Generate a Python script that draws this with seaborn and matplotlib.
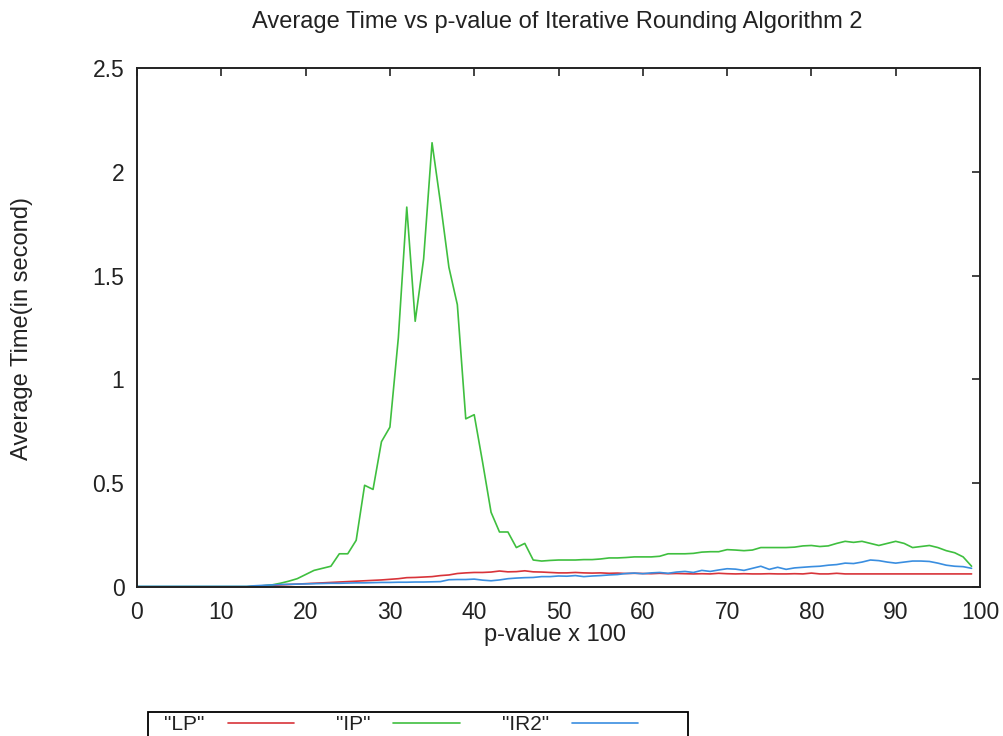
import numpy as np
import pandas as pd
import matplotlib
matplotlib.use("Agg")
import matplotlib.pyplot as plt
from matplotlib.patches import Rectangle
import seaborn as sns

# p-value x 100 (0..99)
p_values = list(range(100))

# Average time of "LP"
lp_time = [0.0] * 14 + [
    0.004, 0.006, 0.008, 0.010, 0.012, 0.014, 0.016, 0.018, 0.020, 0.022,
    0.024, 0.026, 0.028, 0.030, 0.032, 0.034, 0.037, 0.040, 0.045, 0.046,
    0.048, 0.050, 0.055, 0.058, 0.065, 0.068, 0.070, 0.070, 0.072, 0.077,
    0.073, 0.074, 0.078, 0.073, 0.072, 0.070, 0.068, 0.068, 0.070, 0.068,
    0.067, 0.068, 0.066, 0.067, 0.065, 0.066, 0.065, 0.064, 0.066, 0.064,
    0.065, 0.064, 0.063, 0.064, 0.063, 0.066, 0.064, 0.063, 0.064, 0.063,
    0.063, 0.064, 0.063, 0.063, 0.064, 0.063, 0.067, 0.063, 0.063, 0.066,
    0.063, 0.063, 0.063, 0.063, 0.063, 0.063, 0.063, 0.063, 0.063, 0.063,
    0.063, 0.063, 0.063, 0.063, 0.063, 0.063,
]

# Average time of "IP"
ip_time = [0.002] * 14 + [
    0.004, 0.006, 0.010, 0.018, 0.028, 0.040, 0.060, 0.080, 0.090, 0.100,
    0.160, 0.160, 0.225, 0.490, 0.470, 0.700, 0.770, 1.200, 1.830, 1.280,
    1.580, 2.140, 1.850, 1.540, 1.360, 0.810, 0.830, 0.600, 0.360, 0.265,
    0.265, 0.190, 0.210, 0.130, 0.125, 0.128, 0.130, 0.130, 0.130, 0.132,
    0.132, 0.135, 0.140, 0.140, 0.142, 0.145, 0.145, 0.145, 0.148, 0.160,
    0.160, 0.160, 0.162, 0.168, 0.170, 0.170, 0.180, 0.178, 0.175, 0.178,
    0.190, 0.190, 0.190, 0.190, 0.192, 0.198, 0.200, 0.195, 0.198, 0.210,
    0.220, 0.215, 0.220, 0.210, 0.200, 0.210, 0.220, 0.210, 0.190, 0.195,
    0.200, 0.190, 0.175, 0.165, 0.145, 0.100,
]

# Average time of "IR2"
ir2_time = [0.003] * 14 + [
    0.006, 0.008, 0.010, 0.012, 0.013, 0.014, 0.015, 0.016, 0.017, 0.018,
    0.018, 0.019, 0.020, 0.020, 0.021, 0.022, 0.022, 0.023, 0.023, 0.024,
    0.024, 0.025, 0.026, 0.035, 0.036, 0.036, 0.038, 0.033, 0.030, 0.034,
    0.040, 0.043, 0.045, 0.046, 0.050, 0.050, 0.053, 0.052, 0.055, 0.050,
    0.053, 0.055, 0.058, 0.060, 0.065, 0.067, 0.064, 0.068, 0.070, 0.066,
    0.072, 0.075, 0.070, 0.080, 0.075, 0.082, 0.088, 0.086, 0.080, 0.090,
    0.100, 0.085, 0.095, 0.085, 0.092, 0.095, 0.098, 0.100, 0.105, 0.108,
    0.115, 0.113, 0.120, 0.130, 0.127, 0.120, 0.115, 0.120, 0.125, 0.125,
    0.123, 0.115, 0.105, 0.100, 0.098, 0.090,
]

series_names = ['"LP"', '"IP"', '"IR2"']
colors = ["#d8343a", "#3fbf3f", "#3a8ee0"]

df = pd.concat([
    pd.DataFrame({"p": p_values, "time": vals, "series": name})
    for name, vals in zip(series_names, [lp_time, ip_time, ir2_time])
], ignore_index=True)

sns.set_style("white")
plt.rcParams["font.family"] = ["Liberation Sans", "DejaVu Sans"]

W, H = 1004, 736
fig = plt.figure(figsize=(W / 100, H / 100), dpi=100)
ax = fig.add_axes([137 / W, 1 - 587 / H, (980 - 137) / W, (587 - 68) / H])

sns.lineplot(data=df, x="p", y="time", hue="series", palette=colors,
             linewidth=1.2, ax=ax, legend=False)

ax.set_xlim(0, 100)
ax.set_ylim(0, 2.5)
ax.set_xticks(range(0, 101, 10))
ax.set_yticks([0, 0.5, 1, 1.5, 2, 2.5])
ax.set_yticklabels(["0", "0.5", "1", "1.5", "2", "2.5"])
ax.tick_params(direction="in", length=6, width=1.2, colors="#222222",
               labelsize=16.5, top=True, right=True, labeltop=False, labelright=False)
ax.tick_params(axis="y", pad=9)
ax.tick_params(axis="x", pad=10)
for s in ax.spines.values():
    s.set_color("#222222")
    s.set_linewidth(1.4)

ax.set_xlabel("")
ax.set_ylabel("")
txt_color = "#222222"
fig.text(555 / W, 1 - 635 / H, "p-value x 100", ha="center", va="center",
         fontsize=17, color=txt_color)
fig.text(22 / W, 1 - 328 / H, "Average Time(in second)", ha="center", va="center",
         rotation=90, fontsize=17, color=txt_color)
fig.text(557 / W, 1 - 22 / H, "Average Time vs p-value of Iterative Rounding Algorithm 2",
         ha="center", va="center", fontsize=17, color=txt_color)

# key box at the bottom (cut by the image edge, as in the original)
fig.patches.append(Rectangle((148 / W, -0.05), (688 - 148) / W, 1 - 712 / H + 0.05,
                             transform=fig.transFigure, fill=False,
                             edgecolor="black", linewidth=1.3))
handles = [plt.Line2D([], [], color=c, linewidth=1.2) for c in colors]
leg = fig.legend(handles, series_names, loc="upper left",
                 bbox_to_anchor=(158 / W, 1 - 709 / H), ncol=3,
                 markerfirst=False, fontsize=15, frameon=False,
                 handlelength=3.2, handletextpad=1.1, columnspacing=2.0,
                 borderaxespad=0, borderpad=0.3)
for t in leg.get_texts():
    t.set_color(txt_color)

fig.savefig("out.png", dpi=100)
